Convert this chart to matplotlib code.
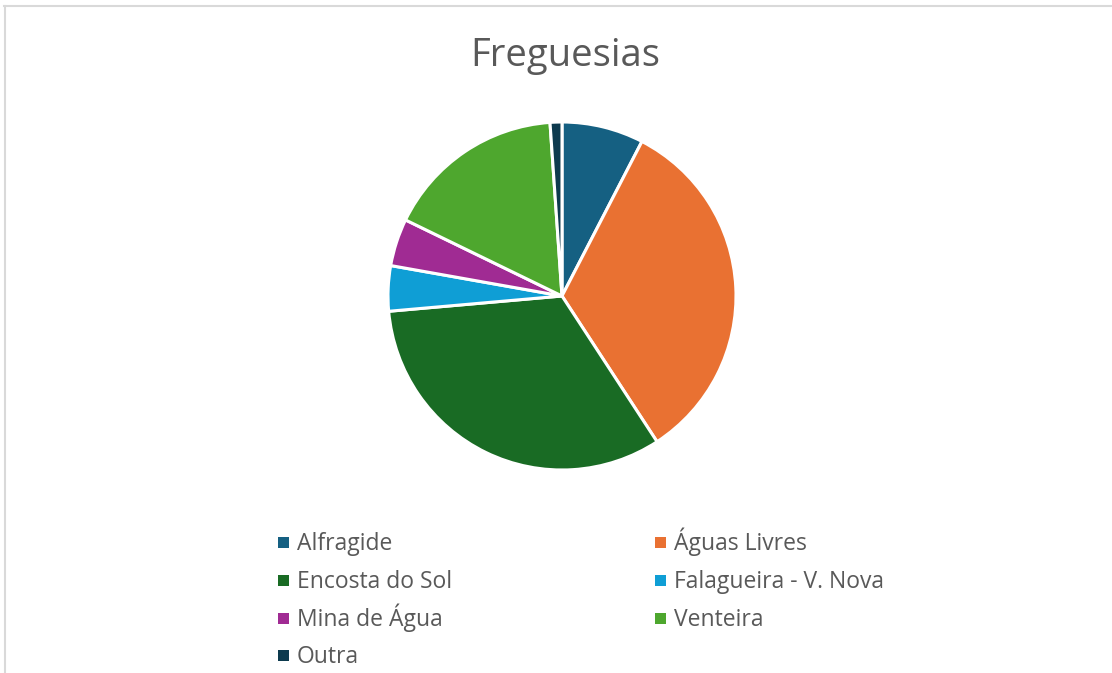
import matplotlib
matplotlib.use('Agg')
import matplotlib.pyplot as plt
from matplotlib.lines import Line2D
from matplotlib.patches import Rectangle

# data (percent share)
labels = ['Alfragide', 'Águas Livres', 'Encosta do Sol', 'Falagueira - V. Nova',
          'Mina de Água', 'Venteira', 'Outra']
values = [7.6, 33.2, 32.8, 4.2, 4.4, 16.7, 1.1]
colors = ['#156082', '#E97132', '#196B24', '#0F9ED5', '#A02B93', '#4EA72E', '#0D3A4E']

plt.rcParams['font.family'] = ['Open Sans', 'DejaVu Sans']

W, H = 1112, 673
fig = plt.figure(figsize=(W/100, H/100), dpi=100)

# pie axes: centre (562,296), radius 174 px
cx, cy, r = 562, 296, 174
ax = fig.add_axes([(cx-r)/W, (H-cy-r)/H, 2*r/W, 2*r/H])
wedges, _ = ax.pie(values, colors=colors, startangle=90, counterclock=False,
                   wedgeprops=dict(edgecolor='white', linewidth=2.2))
ax.set_xlim(-1, 1); ax.set_ylim(-1, 1)
ax.set_aspect('equal')
ax.axis('off')

fig.text(565/W, 1-56/H, 'Freguesias', ha='center', va='center',
         fontsize=27.5, color='#595959')

# legend laid out row by row, two columns (like Excel)
col_x = [278, 655]     # marker left edge, px
row_y = [542, 580, 618, 655]  # marker centre, px
sq = 11
for i, (lab, c) in enumerate(zip(labels, colors)):
    x0 = col_x[i % 2]
    y0 = row_y[i // 2]
    fig.add_artist(Rectangle((x0/W, (H-y0-sq/2)/H), sq/W, sq/H,
                             facecolor=c, edgecolor='none', transform=fig.transFigure))
    fig.text((x0+sq+8)/W, (H-y0-8)/H, lab, ha='left', va='baseline',
             fontsize=16.5, color='#595959')

# chart border (only left and top visible)
fig.add_artist(Line2D([4/W, 1], [1-6/H, 1-6/H], color='#d9d9d9', lw=1.5))
fig.add_artist(Line2D([5/W, 5/W], [0, 1-6/H], color='#d9d9d9', lw=1.5))

fig.savefig('out.png', dpi=100, facecolor='white')
